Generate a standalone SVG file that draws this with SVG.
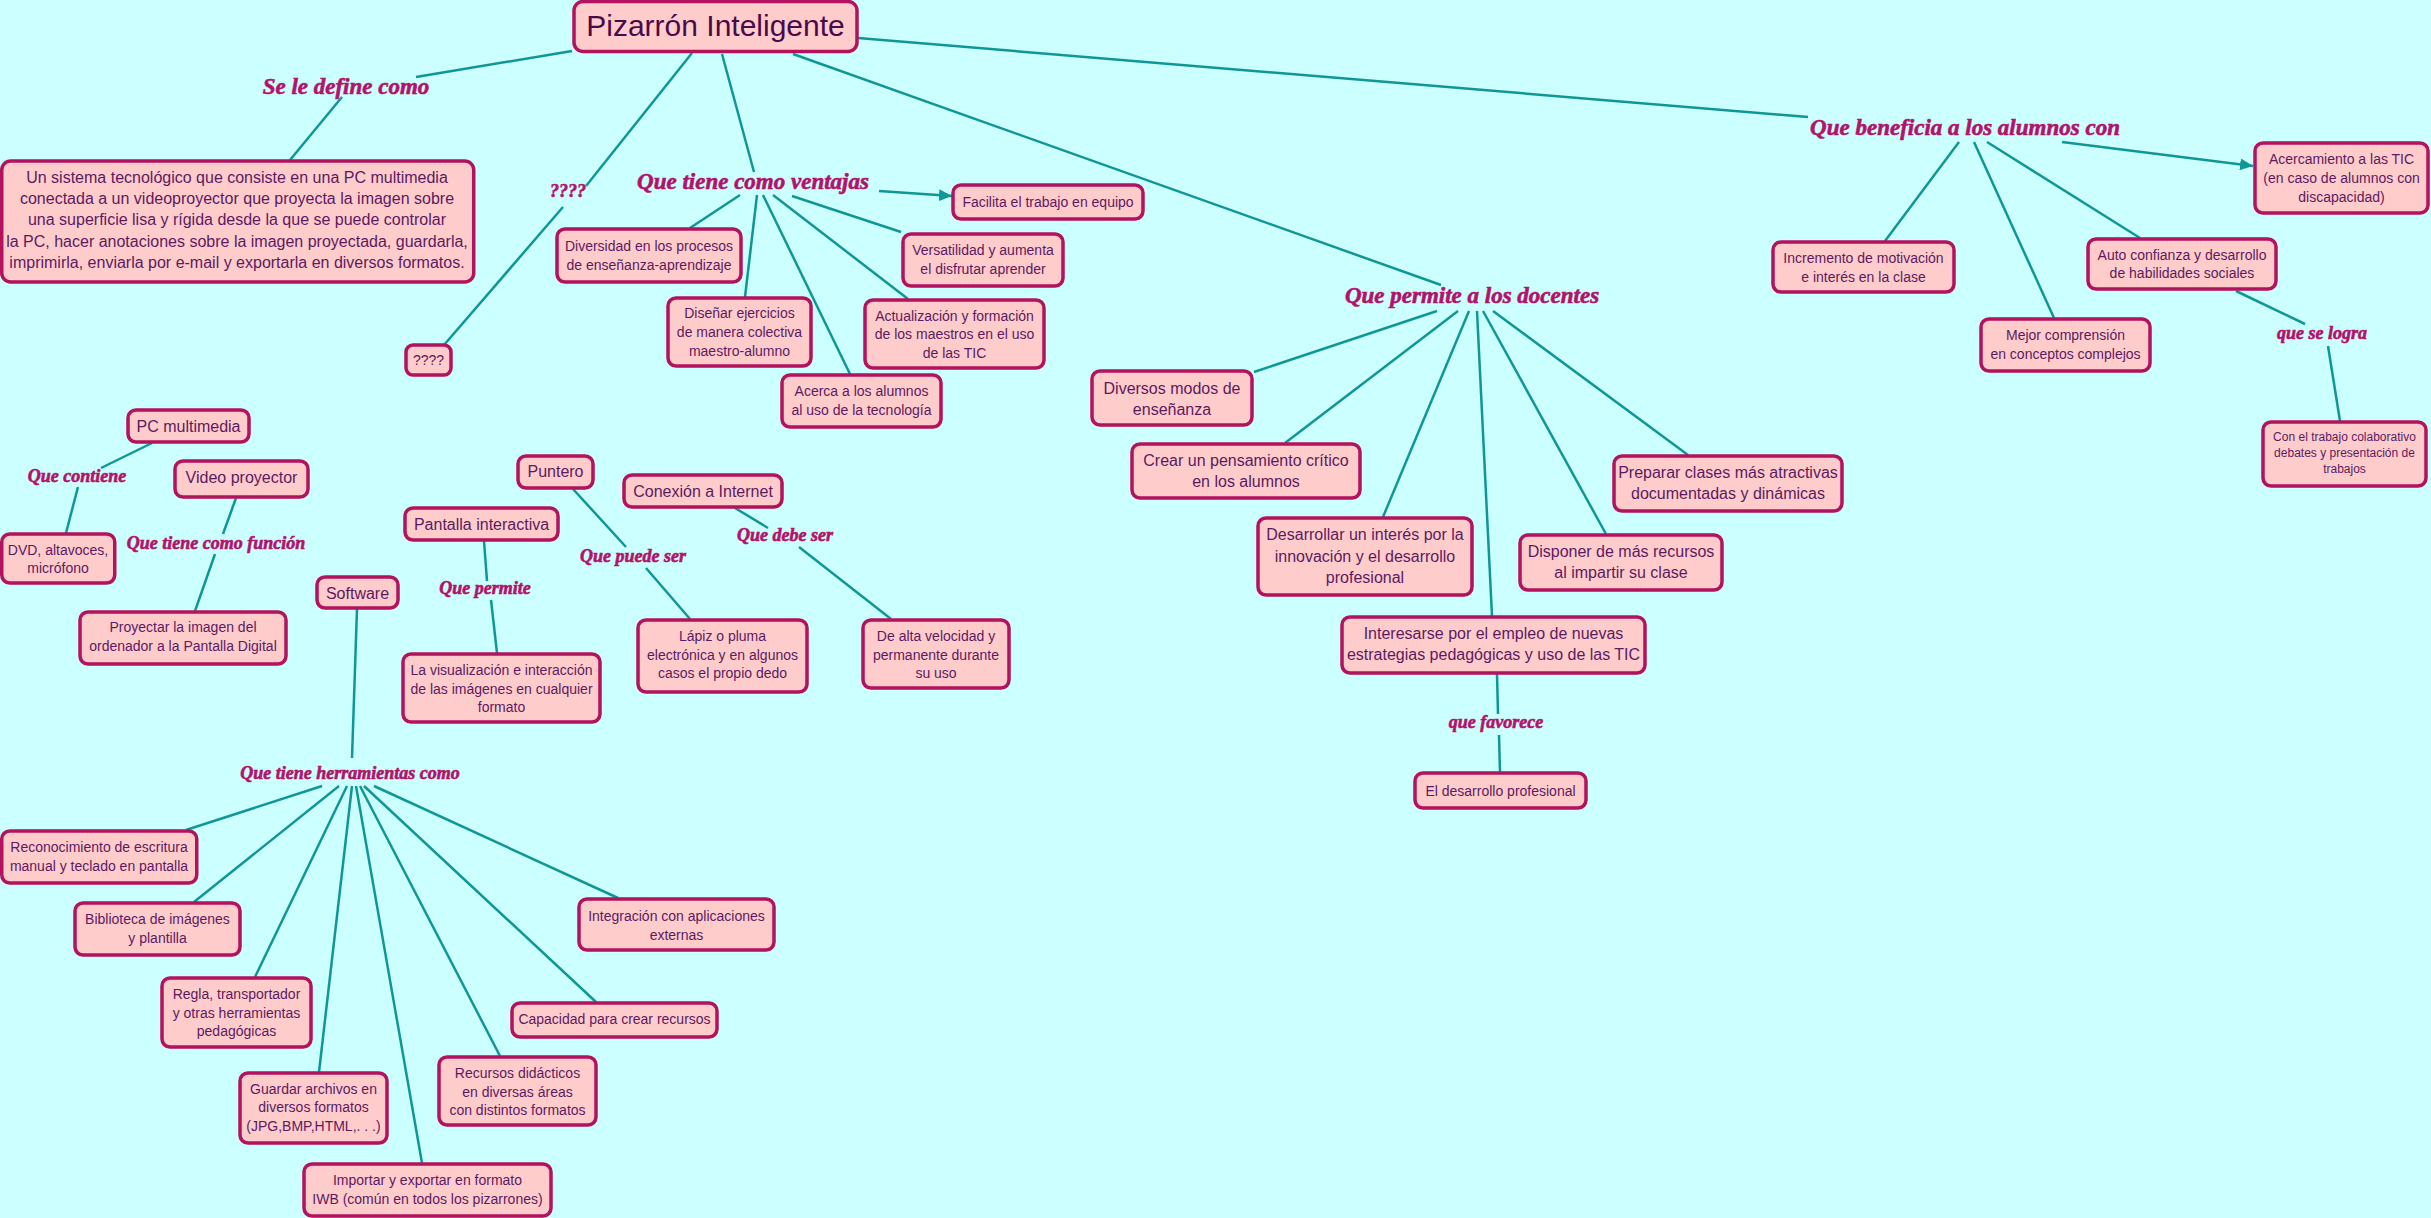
<svg xmlns="http://www.w3.org/2000/svg" width="2431" height="1218" viewBox="0 0 2431 1218">
<defs>
<style>
.bg{fill:#ccffff}
.box{fill:#ffcccc;stroke:#b3125e;stroke-width:3.5}
.n{font-family:"Liberation Sans",Arial,sans-serif;fill:#5c1a60;text-anchor:middle}
.s12{font-size:12px}.s13{font-size:14px}.s14{font-size:14px}.s16{font-size:16px}
.ttl{font-family:"Liberation Sans",Arial,sans-serif;font-size:30px;fill:#4a0a4a;text-anchor:middle}
.l{font-family:"Liberation Serif","Times New Roman",serif;font-weight:bold;font-style:italic;fill:#b3126a;stroke:#b3126a;stroke-width:0.6;text-anchor:middle}
.lb{font-size:23px}.ls{font-size:18px}
.c line{stroke:#119696;stroke-width:2.5;fill:none}
</style>
<marker id="arr" markerUnits="userSpaceOnUse" markerWidth="13" markerHeight="12" refX="13" refY="6" orient="auto">
<path d="M0,0 L13,6 L0,12 z" fill="#119696"/>
</marker>
</defs>
<rect class="bg" x="0" y="0" width="2431" height="1218"/>

<g id="connectors" class="c">
<line x1="572" y1="51" x2="416" y2="77"/>
<line x1="342" y1="97" x2="290" y2="160"/>
<line x1="692" y1="53" x2="586" y2="186"/>
<line x1="563" y1="207" x2="444" y2="345"/>
<line x1="722" y1="54" x2="754" y2="172"/>
<line x1="879" y1="191" x2="952" y2="196" marker-end="url(#arr)"/>
<line x1="740" y1="195" x2="690" y2="228"/>
<line x1="757" y1="195" x2="745" y2="297"/>
<line x1="763" y1="195" x2="850" y2="374"/>
<line x1="773" y1="195" x2="908" y2="299"/>
<line x1="792" y1="196" x2="901" y2="232"/>
<line x1="793" y1="54" x2="1441" y2="285"/>
<line x1="1437" y1="311" x2="1254" y2="372"/>
<line x1="1458" y1="311" x2="1285" y2="443"/>
<line x1="1469" y1="311" x2="1383" y2="517"/>
<line x1="1477" y1="311" x2="1492" y2="616"/>
<line x1="1483" y1="311" x2="1606" y2="534"/>
<line x1="1493" y1="311" x2="1688" y2="455"/>
<line x1="1497" y1="674" x2="1498" y2="714"/>
<line x1="1499" y1="735" x2="1500" y2="772"/>
<line x1="858" y1="38" x2="1808" y2="117"/>
<line x1="2062" y1="142" x2="2253" y2="166" marker-end="url(#arr)"/>
<line x1="1959" y1="142" x2="1885" y2="241"/>
<line x1="1974" y1="142" x2="2054" y2="318"/>
<line x1="1987" y1="142" x2="2140" y2="238"/>
<line x1="2236" y1="291" x2="2305" y2="324"/>
<line x1="2328" y1="346" x2="2340" y2="421"/>
<line x1="152" y1="443" x2="101" y2="468"/>
<line x1="78" y1="487" x2="66" y2="533"/>
<line x1="236" y1="498" x2="223" y2="534"/>
<line x1="215" y1="554" x2="195" y2="611"/>
<line x1="357" y1="609" x2="352" y2="758"/>
<line x1="484" y1="541" x2="487" y2="581"/>
<line x1="491" y1="600" x2="497" y2="653"/>
<line x1="573" y1="489" x2="626" y2="547"/>
<line x1="646" y1="568" x2="690" y2="619"/>
<line x1="735" y1="508" x2="768" y2="528"/>
<line x1="799" y1="547" x2="891" y2="619"/>
<line x1="322" y1="786" x2="186" y2="830"/>
<line x1="339" y1="786" x2="194" y2="902"/>
<line x1="347" y1="786" x2="255" y2="977"/>
<line x1="352" y1="786" x2="319" y2="1072"/>
<line x1="356" y1="786" x2="422" y2="1163"/>
<line x1="360" y1="786" x2="500" y2="1056"/>
<line x1="364" y1="786" x2="596" y2="1002"/>
<line x1="374" y1="786" x2="618" y2="898"/>
</g>

<g id="labels">
<text class="l lb" x="346" y="94">Se le define como</text>
<text class="l ls" x="568" y="197">????</text>
<text class="l lb" x="753" y="189">Que tiene como ventajas</text>
<text class="l lb" x="1472" y="303">Que permite a los docentes</text>
<text class="l lb" x="1965" y="135">Que beneficia a los alumnos con</text>
<text class="l ls" x="77" y="482">Que contiene</text>
<text class="l ls" x="216" y="549">Que tiene como función</text>
<text class="l ls" x="485" y="594">Que permite</text>
<text class="l ls" x="633" y="562">Que puede ser</text>
<text class="l ls" x="785" y="541">Que debe ser</text>
<text class="l ls" x="350" y="779">Que tiene herramientas como</text>
<text class="l ls" x="1496" y="728">que favorece</text>
<text class="l ls" x="2322" y="339">que se logra</text>
</g>

<g id="n-title"><rect class="box" x="574" y="1.5" width="283" height="50" rx="9"/><text class="ttl" x="715.5" y="36">Pizarrón Inteligente</text></g>

<g id="n-def"><rect class="box" x="1.75" y="161" width="472" height="121" rx="9"/>
<text class="n s16" x="237"><tspan x="237" y="183">Un sistema tecnológico que consiste en una PC multimedia</tspan><tspan x="237" y="204">conectada a un videoproyector que proyecta la imagen sobre</tspan><tspan x="237" y="225">una superficie lisa y rígida desde la que se puede controlar</tspan><tspan x="237" y="247">la PC, hacer anotaciones sobre la imagen proyectada, guardarla,</tspan><tspan x="237" y="268">imprimirla, enviarla por e-mail y exportarla en diversos formatos.</tspan></text></g>

<g id="n-q"><rect class="box" x="406" y="345" width="45" height="30" rx="7"/><text class="n s13" x="428.5" y="365">????</text></g>

<g id="n-div"><rect class="box" x="557" y="229" width="184" height="53" rx="8"/><text class="n s14"><tspan x="649" y="251">Diversidad en los procesos</tspan><tspan x="649" y="270">de enseñanza-aprendizaje</tspan></text></g>
<g id="n-dis"><rect class="box" x="668" y="298" width="143" height="68" rx="8"/><text class="n s14"><tspan x="739.5" y="318">Diseñar ejercicios</tspan><tspan x="739.5" y="337">de manera colectiva</tspan><tspan x="739.5" y="356">maestro-alumno</tspan></text></g>
<g id="n-ace"><rect class="box" x="782" y="375" width="159" height="52" rx="8"/><text class="n s14"><tspan x="861.5" y="396">Acerca a los alumnos</tspan><tspan x="861.5" y="415">al uso de la tecnología</tspan></text></g>
<g id="n-act"><rect class="box" x="865" y="300" width="179" height="68" rx="8"/><text class="n s14"><tspan x="954.5" y="321">Actualización y formación</tspan><tspan x="954.5" y="339">de los maestros en el uso</tspan><tspan x="954.5" y="358">de las TIC</tspan></text></g>
<g id="n-ver"><rect class="box" x="903" y="234" width="160" height="52" rx="8"/><text class="n s14"><tspan x="983" y="255">Versatilidad y aumenta</tspan><tspan x="983" y="274">el disfrutar aprender</tspan></text></g>
<g id="n-fac"><rect class="box" x="953" y="185" width="190" height="34" rx="8"/><text class="n s14" x="1048" y="207">Facilita el trabajo en equipo</text></g>

<g id="n-dmo"><rect class="box" x="1092" y="371" width="160" height="54" rx="8"/><text class="n s16"><tspan x="1172" y="394">Diversos modos de</tspan><tspan x="1172" y="415">enseñanza</tspan></text></g>
<g id="n-cre"><rect class="box" x="1132" y="444" width="228" height="54" rx="8"/><text class="n s16"><tspan x="1246" y="466">Crear un pensamiento crítico</tspan><tspan x="1246" y="487">en los alumnos</tspan></text></g>
<g id="n-des"><rect class="box" x="1258" y="518" width="214" height="77" rx="8"/><text class="n s16"><tspan x="1365" y="540">Desarrollar un interés por la</tspan><tspan x="1365" y="561.5">innovación y el desarrollo</tspan><tspan x="1365" y="583">profesional</tspan></text></g>
<g id="n-int"><rect class="box" x="1342" y="617" width="303" height="56" rx="8"/><text class="n s16"><tspan x="1493.5" y="639">Interesarse por el empleo de nuevas</tspan><tspan x="1493.5" y="660">estrategias pedagógicas y uso de las TIC</tspan></text></g>
<g id="n-dsp"><rect class="box" x="1520" y="535" width="202" height="55" rx="8"/><text class="n s16"><tspan x="1621" y="557">Disponer de más recursos</tspan><tspan x="1621" y="578">al impartir su clase</tspan></text></g>
<g id="n-pre"><rect class="box" x="1614" y="456" width="228" height="55" rx="8"/><text class="n s16"><tspan x="1728" y="478">Preparar clases más atractivas</tspan><tspan x="1728" y="499">documentadas y dinámicas</tspan></text></g>
<g id="n-edp"><rect class="box" x="1415" y="773" width="171" height="35" rx="8"/><text class="n s14" x="1500.5" y="795.5">El desarrollo profesional</text></g>

<g id="n-acer"><rect class="box" x="2255" y="143" width="173" height="70" rx="8"/><text class="n s14"><tspan x="2341.5" y="164">Acercamiento a las TIC</tspan><tspan x="2341.5" y="183">(en caso de alumnos con</tspan><tspan x="2341.5" y="202">discapacidad)</tspan></text></g>
<g id="n-inc"><rect class="box" x="1773" y="242" width="181" height="50" rx="8"/><text class="n s14"><tspan x="1863.5" y="262.5">Incremento de motivación</tspan><tspan x="1863.5" y="281.5">e interés en la clase</tspan></text></g>
<g id="n-mej"><rect class="box" x="1981" y="319" width="169" height="52" rx="8"/><text class="n s14"><tspan x="2065.5" y="340">Mejor comprensión</tspan><tspan x="2065.5" y="359">en conceptos complejos</tspan></text></g>
<g id="n-aut"><rect class="box" x="2088" y="239" width="188" height="50" rx="8"/><text class="n s14"><tspan x="2182" y="260">Auto confianza y desarrollo</tspan><tspan x="2182" y="278">de habilidades sociales</tspan></text></g>
<g id="n-con"><rect class="box" x="2263" y="422" width="163" height="64" rx="8"/><text class="n s12"><tspan x="2344.5" y="441">Con el trabajo colaborativo</tspan><tspan x="2344.5" y="457">debates y presentación de</tspan><tspan x="2344.5" y="473">trabajos</tspan></text></g>

<g id="n-pc"><rect class="box" x="128" y="410" width="121" height="32" rx="8"/><text class="n s16" x="188.5" y="431.5">PC multimedia</text></g>
<g id="n-dvd"><rect class="box" x="1.75" y="534" width="113" height="49" rx="8"/><text class="n s14"><tspan x="58" y="555">DVD, altavoces,</tspan><tspan x="58" y="573">micrófono</tspan></text></g>
<g id="n-vp"><rect class="box" x="175" y="461" width="133" height="36" rx="8"/><text class="n s16" x="241.5" y="483">Video proyector</text></g>
<g id="n-pro"><rect class="box" x="80" y="612" width="206" height="52" rx="8"/><text class="n s14"><tspan x="183" y="632">Proyectar la imagen del</tspan><tspan x="183" y="651">ordenador a la Pantalla Digital</tspan></text></g>
<g id="n-sw"><rect class="box" x="317" y="577" width="81" height="31" rx="8"/><text class="n s16" x="357.5" y="599">Software</text></g>
<g id="n-pi"><rect class="box" x="405" y="508" width="153" height="32" rx="8"/><text class="n s16" x="481.5" y="529.5">Pantalla interactiva</text></g>
<g id="n-vis"><rect class="box" x="403" y="654" width="197" height="68" rx="8"/><text class="n s14"><tspan x="501.5" y="675">La visualización e interacción</tspan><tspan x="501.5" y="693.5">de las imágenes en cualquier</tspan><tspan x="501.5" y="711.5">formato</tspan></text></g>
<g id="n-pun"><rect class="box" x="518" y="456" width="75" height="32" rx="8"/><text class="n s16" x="555.5" y="477">Puntero</text></g>
<g id="n-lap"><rect class="box" x="638" y="620" width="169" height="72" rx="8"/><text class="n s14"><tspan x="722.5" y="641">Lápiz o pluma</tspan><tspan x="722.5" y="659.5">electrónica y en algunos</tspan><tspan x="722.5" y="678">casos el propio dedo</tspan></text></g>
<g id="n-cnx"><rect class="box" x="624" y="475" width="158" height="32" rx="8"/><text class="n s16" x="703" y="497">Conexión a Internet</text></g>
<g id="n-alta"><rect class="box" x="863" y="620" width="146" height="68" rx="8"/><text class="n s14"><tspan x="936" y="641">De alta velocidad y</tspan><tspan x="936" y="659.5">permanente durante</tspan><tspan x="936" y="678">su uso</tspan></text></g>

<g id="n-rec"><rect class="box" x="1.75" y="831" width="195" height="52" rx="8"/><text class="n s14"><tspan x="99" y="851.5">Reconocimiento de escritura</tspan><tspan x="99" y="870.5">manual y teclado en pantalla</tspan></text></g>
<g id="n-bib"><rect class="box" x="75" y="903" width="165" height="52" rx="8"/><text class="n s14"><tspan x="157.5" y="924">Biblioteca de imágenes</tspan><tspan x="157.5" y="942.5">y plantilla</tspan></text></g>
<g id="n-reg"><rect class="box" x="162" y="978" width="149" height="69" rx="8"/><text class="n s14"><tspan x="236.5" y="999">Regla, transportador</tspan><tspan x="236.5" y="1017.5">y otras herramientas</tspan><tspan x="236.5" y="1036">pedagógicas</tspan></text></g>
<g id="n-gua"><rect class="box" x="240" y="1073" width="147" height="70" rx="8"/><text class="n s14"><tspan x="313.5" y="1093.5">Guardar archivos en</tspan><tspan x="313.5" y="1112">diversos formatos</tspan><tspan x="313.5" y="1131">(JPG,BMP,HTML,. . .)</tspan></text></g>
<g id="n-imp"><rect class="box" x="304" y="1164" width="247" height="52" rx="8"/><text class="n s14"><tspan x="427.5" y="1185">Importar y exportar en formato</tspan><tspan x="427.5" y="1203.5">IWB (común en todos los pizarrones)</tspan></text></g>
<g id="n-rdi"><rect class="box" x="439" y="1057" width="157" height="68" rx="8"/><text class="n s14"><tspan x="517.5" y="1077.5">Recursos didácticos</tspan><tspan x="517.5" y="1096.5">en diversas áreas</tspan><tspan x="517.5" y="1115">con distintos formatos</tspan></text></g>
<g id="n-cap"><rect class="box" x="512" y="1003" width="205" height="34" rx="8"/><text class="n s14" x="614.5" y="1024">Capacidad para crear recursos</text></g>
<g id="n-itg"><rect class="box" x="579" y="899" width="195" height="51" rx="8"/><text class="n s14"><tspan x="676.5" y="921">Integración con aplicaciones</tspan><tspan x="676.5" y="939.5">externas</tspan></text></g>
</svg>
